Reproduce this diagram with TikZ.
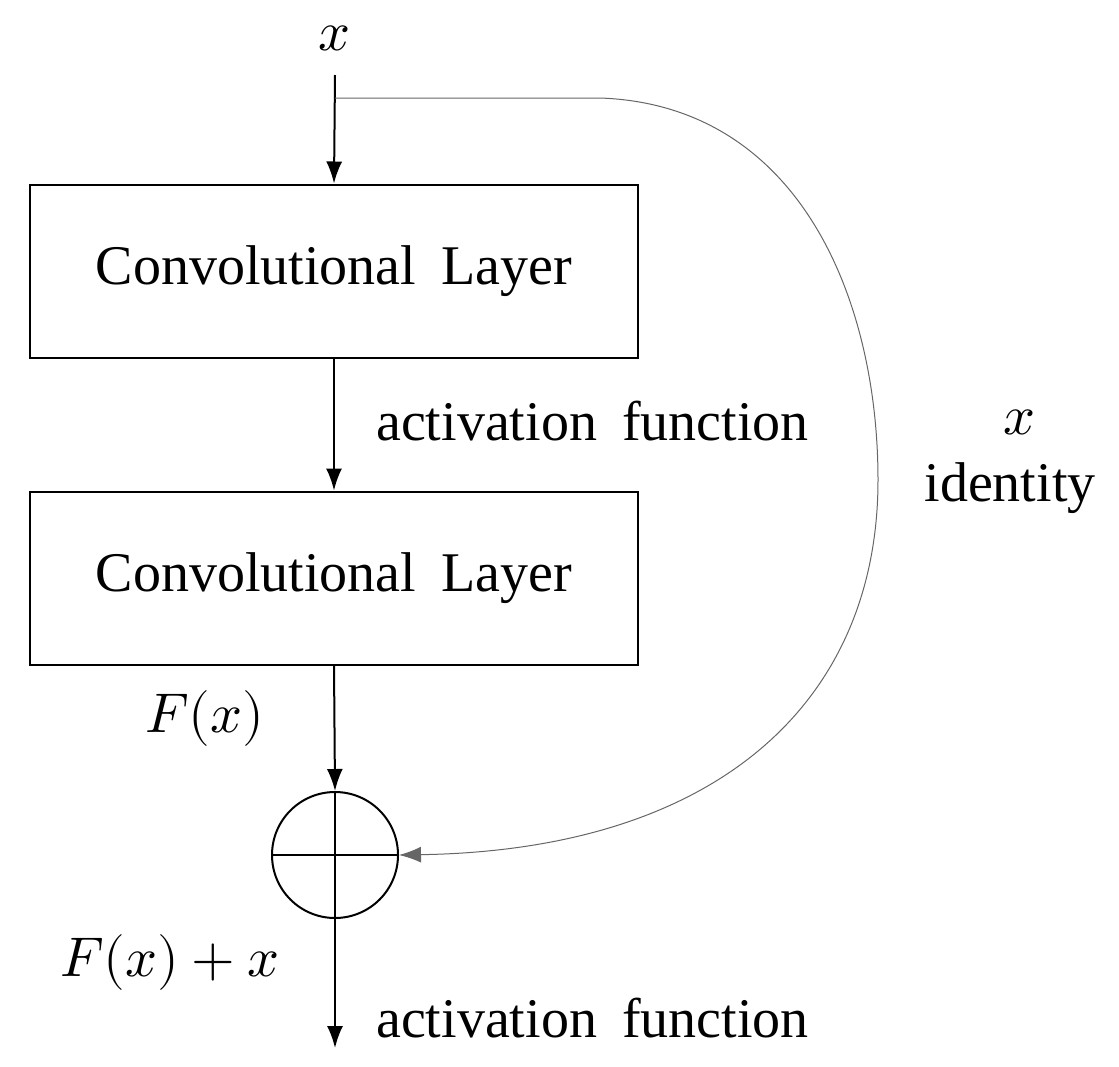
\documentclass[tikz,border=0pt]{standalone}
\usepackage{unicode-math}
\setmainfont{Liberation Serif}
\setmathfont{Latin Modern Math}
\usetikzlibrary{arrows.meta}
\newcommand{\bigfnt}{\fontsize{56}{64}\selectfont\spaceskip=0.45em plus 0pt minus 0pt\relax}
\begin{document}
\begin{tikzpicture}[x=1pt,y=-1pt,
  box/.style={draw,line width=2pt,minimum width=608pt,minimum height=173pt,inner sep=0pt,font=\bigfnt},
  lbl/.style={font=\bigfnt,inner sep=0pt},
  arr/.style={line width=2pt,-{Latex[length=22pt,width=16pt]}}]
\useasboundingbox (0,0) rectangle (1119,1066);
\node[lbl] (x) at (335,38) {$x$};
\coordinate (xs) at (335,75);
\coordinate (br) at (335,98);
\node[box] (c1) at (334,271) {Convolutional Layer};
\node[box] (c2) at (334,578) {Convolutional Layer};
\node[draw,circle,line width=2pt,minimum size=126pt,inner sep=0pt] (s) at (335,855) {};
\draw[line width=2pt] (s.north)--(s.south) (s.west)--(s.east);
\coordinate (out) at (335,1048);
\draw[arr] (xs) -- (c1.north);
\draw[arr] (c1.south) -- (c2.north);
\draw[arr] (c2.south) -- (s.north);
\draw[arr] (s.south) -- (out);
\draw[line width=1pt,gray!80!black,-{Latex[length=22pt,width=16pt]}] (br) -- (600,98) .. controls (800,105) and (878,300) .. (878,480) .. controls (878,700) and (720,850) .. (s.east);
\node[lbl,anchor=west] (a1) at (376,421) {activation function};
\node[lbl,anchor=west] (a2) at (376,1018) {activation function};
\node[lbl] (fx) at (205,718) {$F(x)$};
\node[lbl] (fxx) at (170,962) {$F(x)+x$};
\node[lbl] (ix) at (1020,422) {$x$};
\node[lbl] (id) at (1010,488) {identity};
\end{tikzpicture}
\end{document}
